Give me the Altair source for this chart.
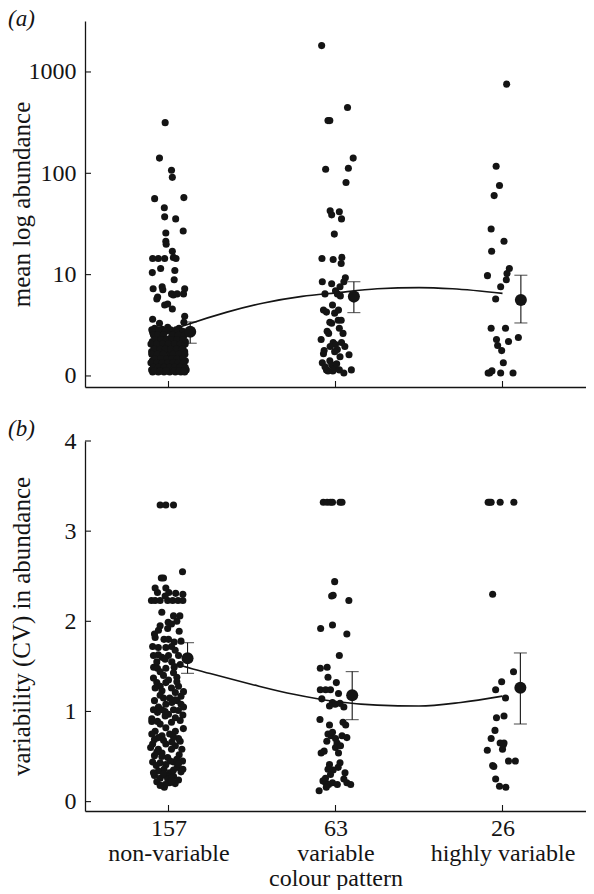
import altair as alt
import pandas as pd

FONT = "Liberation Serif"
INK = "#141414"

# ---------------- categories / tick labels ----------------
CATEGORIES = [1, 2, 3]
COUNT_LABELS = ["157", "63", "26"]
NAME_LABELS = [["non-variable"], ["variable", "colour pattern"], ["highly variable"]]

TOP_TICKS = [0, 1, 2, 3]
TOP_TICK_LABELS = ["0", "10", "100", "1000"]
BOT_TICKS = [0, 1, 2, 3, 4]
BOT_TICK_LABELS = ["0", "1", "2", "3", "4"]

# ---------------- panel (a): mean log abundance (log10 units) ----------------
# (jitter offset in category units, value)
TOP_NONVAR = [
    (-0.020, 2.50), (-0.054, 2.15), (0.018, 2.03), (0.023, 1.96), (-0.083, 1.75), (0.092, 1.76),
    (-0.025, 1.66), (-0.023, 1.57), (0.043, 1.55), (-0.016, 1.41), (0.088, 1.43), (-0.016, 1.33),
    (-0.014, 1.30), (0.023, 1.23), (0.029, 1.17), (-0.061, 1.16), (-0.095, 1.16), (-0.023, 1.16),
    (0.045, 1.16), (-0.047, 1.06), (0.038, 1.04), (-0.097, 1.02), (0.034, 0.95), (-0.092, 0.86),
    (-0.038, 0.88), (-0.034, 0.85), (0.097, 0.86), (0.090, 0.81), (0.018, 0.81), (0.029, 0.80),
    (0.052, 0.81), (-0.065, 0.78), (-0.070, 0.76), (-0.023, 0.70), (-0.005, 0.71), (0.023, 0.66),
    (0.097, 0.59), (-0.095, 0.56), (-0.054, 0.52), (0.092, 0.53),
    (-0.083, 0.47), (-0.038, 0.46), (-0.005, 0.48), (0.063, 0.47),
    (-0.095, 0.43), (-0.061, 0.42), (-0.016, 0.44), (0.018, 0.43), (0.052, 0.42), (0.086, 0.44),
    (-0.079, 0.38), (-0.050, 0.39), (0.007, 0.37), (0.041, 0.38), (0.074, 0.39),
    (-0.097, 0.34), (-0.065, 0.33), (-0.027, 0.35), (0.002, 0.33), (0.034, 0.34), (0.070, 0.32), (0.101, 0.34),
    (-0.088, 0.29), (-0.050, 0.30), (-0.016, 0.28), (0.018, 0.29), (0.052, 0.30), (0.086, 0.28),
    (-0.101, 0.24), (-0.072, 0.23), (-0.034, 0.25), (-0.002, 0.24), (0.029, 0.23), (0.065, 0.25), (0.097, 0.24),
    (-0.083, 0.19), (-0.050, 0.20), (-0.016, 0.18), (0.011, 0.19), (0.047, 0.20), (0.081, 0.18),
    (-0.097, 0.15), (-0.065, 0.14), (-0.029, 0.15), (0.002, 0.16), (0.034, 0.14), (0.070, 0.15), (0.101, 0.15),
    (-0.088, 0.11), (-0.056, 0.10), (-0.020, 0.11), (0.018, 0.10), (0.052, 0.11), (0.086, 0.10),
    (-0.101, 0.06), (-0.072, 0.06), (-0.043, 0.07), (-0.011, 0.06), (0.020, 0.06), (0.052, 0.07), (0.083, 0.06), (0.106, 0.06),
    (-0.095, 0.04), (-0.061, 0.04), (-0.027, 0.04), (0.007, 0.04), (0.041, 0.04), (0.074, 0.04), (0.097, 0.04),
    (-0.100, 0.455), (-0.060, 0.455), (0.012, 0.455), (0.045, 0.455),
    (-0.090, 0.405), (-0.065, 0.405), (-0.030, 0.405), (0.025, 0.405), (0.058, 0.405), (0.095, 0.405),
    (-0.080, 0.36), (-0.045, 0.36), (-0.012, 0.36), (0.018, 0.36), (0.052, 0.36), (0.088, 0.36),
    (-0.105, 0.315), (-0.070, 0.315), (-0.035, 0.315), (0.000, 0.315), (0.036, 0.315), (0.070, 0.315), (0.100, 0.315),
    (-0.085, 0.265), (-0.050, 0.265), (-0.018, 0.265), (0.014, 0.265), (0.048, 0.265), (0.082, 0.265),
    (-0.100, 0.215), (-0.066, 0.215), (-0.032, 0.215), (0.028, 0.215), (0.062, 0.215), (0.098, 0.215),
    (-0.082, 0.17), (-0.047, 0.17), (-0.012, 0.17), (0.019, 0.17), (0.052, 0.17), (0.086, 0.17),
    (-0.105, 0.13), (-0.070, 0.13), (-0.038, 0.13), (-0.005, 0.13), (0.027, 0.13), (0.058, 0.13), (0.090, 0.13),
    (-0.090, 0.085), (-0.060, 0.085), (-0.027, 0.085), (0.006, 0.085), (0.036, 0.085), (0.068, 0.085), (0.100, 0.085),
    (-0.085, 0.05), (-0.050, 0.05), (-0.015, 0.05), (0.035, 0.05), (0.065, 0.05), (0.090, 0.05),
]
TOP_VAR = [
    (-0.083, 3.26), (0.072, 2.65), (-0.045, 2.52), (-0.034, 2.52), (0.106, 2.15), (-0.059, 2.04),
    (0.077, 2.05), (0.063, 1.91), (-0.032, 1.63), (-0.023, 1.59), (0.023, 1.62), (0.036, 1.55),
    (-0.007, 1.40), (-0.081, 1.16), (-0.014, 1.15), (0.038, 1.17), (0.034, 1.11), (-0.079, 0.93),
    (-0.023, 0.91), (0.059, 0.97), (0.050, 0.93), (0.027, 0.88), (0.000, 0.84), (-0.063, 0.81),
    (0.011, 0.81), (0.029, 0.79), (-0.018, 0.70), (-0.072, 0.65), (-0.054, 0.63), (-0.005, 0.62),
    (0.016, 0.55), (-0.034, 0.53), (-0.023, 0.52), (-0.050, 0.44), (0.023, 0.47), (0.045, 0.42),
    (-0.086, 0.36), (-0.014, 0.33), (0.000, 0.31), (0.036, 0.33), (-0.068, 0.25), (0.011, 0.26),
    (-0.005, 0.24), (0.081, 0.21), (0.027, 0.19), (-0.079, 0.13), (-0.034, 0.15), (-0.023, 0.11),
    (-0.054, 0.06), (-0.045, 0.05), (-0.016, 0.05), (-0.007, 0.07), (0.023, 0.06), (0.050, 0.03),
    (0.095, 0.06), (-0.063, 0.09), (0.007, 0.12), (0.056, 0.29), (-0.041, 0.42), (0.034, 0.55),
    (-0.072, 0.22), (-0.032, 0.29), (0.018, 0.65),
]
TOP_HIGH = [
    (0.025, 2.88), (-0.038, 2.07), (-0.018, 1.88), (-0.050, 1.78), (-0.068, 1.45), (0.009, 1.33),
    (-0.065, 1.23), (0.041, 1.06), (0.027, 1.01), (-0.090, 0.99), (-0.011, 0.88), (0.023, 0.95),
    (-0.041, 0.76), (-0.068, 0.47), (0.018, 0.47), (-0.036, 0.36), (0.036, 0.34), (0.095, 0.38),
    (-0.029, 0.30), (-0.005, 0.25), (0.005, 0.13), (-0.086, 0.03), (-0.063, 0.05), (-0.011, 0.03),
    (0.063, 0.03), (-0.077, 0.03),
]
TOP_MEAN = [0.437, 0.783, 0.750]
TOP_LO = [0.323, 0.625, 0.523]
TOP_HI = [0.533, 0.930, 0.994]
TOP_MEAN_OFFSET = [0.13, 0.11, 0.11]
TOP_FIT_X = [1.0, 1.1, 1.35, 1.57, 1.8, 2.0, 2.25, 2.5, 2.7, 3.0]
TOP_FIT_Y = [0.44, 0.50, 0.63, 0.72, 0.785, 0.82, 0.86, 0.872, 0.86, 0.815]

# ---------------- panel (b): variability (CV) ----------------
BOT_NONVAR = [
    (-0.050, 3.29), (-0.016, 3.29), (0.030, 3.29), (0.084, 2.55), (-0.043, 2.48), (-0.030, 2.48),
    (-0.080, 2.37), (-0.016, 2.37), (-0.066, 2.32), (0.002, 2.32), (0.043, 2.31), (0.086, 2.30),
    (-0.102, 2.23), (-0.080, 2.23), (-0.050, 2.23), (-0.005, 2.23), (0.025, 2.23), (0.057, 2.23), (0.086, 2.23),
    (0.030, 2.06), (0.068, 2.06), (-0.002, 1.99), (0.018, 1.97), (-0.005, 1.92), (0.064, 1.89),
    (-0.084, 1.86), (-0.080, 1.82), (-0.027, 1.80), (0.034, 1.77), (0.075, 1.78), (-0.095, 1.72),
    (-0.061, 1.71), (-0.016, 1.71), (0.018, 1.72), (-0.061, 1.63), (-0.039, 1.60), (0.000, 1.62),
    (-0.089, 1.49), (-0.066, 1.48), (-0.016, 1.48), (0.034, 1.49), (0.030, 1.43), (-0.070, 1.32),
    (-0.050, 1.28), (-0.016, 1.32), (0.018, 1.26), (-0.039, 1.23), (0.041, 1.21), (0.075, 1.17),
    (0.007, 1.15), (0.052, 1.12), (-0.084, 1.12), (-0.016, 1.08), (0.075, 1.08), (-0.039, 1.02),
    (0.030, 1.02), (0.059, 1.01), (-0.066, 0.99), (0.000, 0.97), (0.086, 0.96), (0.041, 0.93),
    (-0.100, 0.89), (-0.066, 0.89), (0.018, 0.88), (0.089, 0.81), (-0.016, 0.82), (0.041, 0.78),
    (0.007, 0.75), (-0.039, 0.73), (-0.061, 0.71), (-0.084, 0.69), (0.070, 0.67), (-0.095, 0.64),
    (-0.016, 0.64), (0.041, 0.62), (-0.107, 0.60), (-0.061, 0.58), (0.018, 0.58), (-0.039, 0.54),
    (0.064, 0.52), (-0.084, 0.51), (-0.005, 0.49), (-0.095, 0.44), (0.030, 0.44), (0.084, 0.45),
    (-0.050, 0.43), (-0.016, 0.41), (-0.073, 0.40), (0.052, 0.38), (0.086, 0.36), (-0.027, 0.36),
    (0.007, 0.32), (0.075, 0.33), (-0.084, 0.29), (-0.016, 0.29), (0.030, 0.28), (-0.050, 0.26),
    (-0.005, 0.25), (0.018, 0.26), (-0.025, 0.16), (0.007, 0.21),
    (-0.070, 1.55), (0.020, 1.55), (-0.030, 1.40), (0.050, 1.38), (-0.090, 1.37), (0.000, 1.35),
    (-0.050, 1.18), (0.020, 1.10), (-0.060, 1.05), (0.060, 1.28), (-0.020, 0.95), (-0.080, 0.78),
    (0.060, 0.70), (-0.030, 0.68), (0.020, 0.66), (-0.070, 0.55), (0.050, 0.47), (-0.060, 0.34),
    (0.030, 0.35), (-0.030, 0.31), (0.060, 0.24), (-0.070, 0.22), (0.040, 0.20), (-0.020, 0.19),
    (0.010, 0.45), (-0.050, 1.95), (0.040, 1.68), (-0.100, 0.92), (0.090, 1.05), (-0.040, 2.10),
    (-0.090, 0.32), (0.060, 0.42), (-0.040, 0.50), (0.080, 0.58), (-0.100, 0.75), (0.030, 0.72),
    (-0.050, 0.86), (0.070, 0.90), (-0.020, 1.00), (-0.090, 1.02), (0.040, 1.13), (-0.030, 1.15),
    (0.090, 1.22), (-0.080, 1.26), (0.050, 1.33), (-0.050, 1.44), (0.070, 1.52), (-0.020, 1.58),
    (-0.090, 1.62), (0.060, 1.62), (0.000, 1.80), (-0.060, 1.90), (0.050, 2.00), (-0.020, 2.28),
    (0.020, 0.23), (-0.050, 0.18),
]
BOT_VAR = [
    (-0.073, 3.32), (-0.050, 3.32), (-0.030, 3.32), (-0.018, 3.32), (0.027, 3.32), (0.039, 3.32),
    (-0.005, 2.44), (-0.023, 2.28), (-0.014, 2.29), (0.080, 2.23), (-0.089, 1.92), (-0.018, 1.96),
    (0.068, 1.86), (0.023, 1.62), (-0.091, 1.48), (-0.050, 1.49), (-0.045, 1.38), (0.005, 1.32),
    (-0.091, 1.24), (-0.059, 1.24), (-0.030, 1.24), (-0.082, 1.14), (0.018, 1.20), (-0.018, 1.10),
    (-0.002, 1.08), (0.027, 1.09), (-0.036, 1.06), (-0.093, 0.91), (0.045, 0.88), (0.061, 0.85),
    (-0.036, 0.85), (-0.045, 0.75), (-0.027, 0.73), (-0.018, 0.77), (0.039, 0.73), (0.000, 0.70),
    (0.068, 0.71), (-0.052, 0.67), (0.009, 0.65), (0.000, 0.60), (-0.086, 0.54), (-0.068, 0.56),
    (0.018, 0.54), (-0.036, 0.41), (0.027, 0.43), (0.016, 0.38), (-0.045, 0.36), (-0.014, 0.35),
    (-0.030, 0.30), (0.057, 0.32), (-0.075, 0.23), (-0.059, 0.21), (-0.041, 0.19), (-0.018, 0.21),
    (0.050, 0.25), (0.068, 0.21), (-0.098, 0.12), (-0.055, 0.16), (0.011, 0.19), (0.091, 0.19),
    (0.030, 0.62), (-0.060, 0.26), (0.050, 1.05),
]
BOT_HIGH = [
    (-0.086, 3.32), (-0.068, 3.32), (-0.014, 3.32), (0.068, 3.32), (-0.077, 3.32), (-0.059, 2.30),
    (0.066, 1.44), (-0.005, 1.33), (-0.041, 1.24), (0.018, 1.15), (0.009, 0.95), (-0.036, 0.93),
    (-0.045, 0.79), (-0.068, 0.70), (-0.014, 0.65), (0.009, 0.65), (0.000, 0.58), (-0.091, 0.57),
    (-0.059, 0.40), (-0.052, 0.39), (0.036, 0.45), (0.077, 0.45), (-0.041, 0.25), (-0.018, 0.17),
    (0.020, 0.16), (0.005, 0.63),
]
BOT_MEAN = [1.590, 1.180, 1.264]
BOT_LO = [1.423, 0.909, 0.861]
BOT_HI = [1.763, 1.442, 1.649]
BOT_MEAN_OFFSET = [0.114, 0.10, 0.107]
BOT_FIT_X = [1.0, 1.25, 1.5, 1.75, 2.0, 2.25, 2.5, 2.75, 3.0]
BOT_FIT_Y = [1.55, 1.42, 1.30, 1.19, 1.11, 1.07, 1.06, 1.10, 1.17]

W = 501
H_TOP = 366
H_BOT = 370


def points_frame(groups):
    rows = []
    for cat, pts in zip(CATEGORIES, groups):
        for off, val in pts:
            rows.append({"x": cat + off, "y": val})
    return pd.DataFrame(rows)


def means_frame(mean, lo, hi, offs):
    return pd.DataFrame({
        "x": [c + o for c, o in zip(CATEGORIES, offs)],
        "y": mean, "lo": lo, "hi": hi,
    })


def ternary(values, labels):
    expr = "''"
    for v, lab in reversed(list(zip(values, labels))):
        expr = f"datum.value == {v} ? {lab} : ({expr})"
    return expr


y_top_expr = ternary(TOP_TICKS, [f"'{t}'" for t in TOP_TICK_LABELS])
y_bot_expr = ternary(BOT_TICKS, [f"'{t}'" for t in BOT_TICK_LABELS])
x_lab = []
for cnt, names in zip(COUNT_LABELS, NAME_LABELS):
    x_lab.append("[" + ",".join(f"'{s}'" for s in [cnt] + names) + "]")
x_expr = ternary(CATEGORIES, x_lab)


def panel(groups, mean, lo, hi, offs, fit_x, fit_y, ydomain, yticks, yexpr, ytitle,
          height, show_xlabels, tag, tag_offset):
    xscale = alt.Scale(domain=[0.5, 3.5], nice=False, zero=False)
    yscale = alt.Scale(domain=ydomain, nice=False, zero=False)
    if show_xlabels:
        xaxis = alt.Axis(values=CATEGORIES, labelExpr=x_expr, title=None, ticks=False,
                         labelPadding=5, labelLineHeight=25, labelBaseline="top", grid=False)
    else:
        xaxis = alt.Axis(values=CATEGORIES, labels=False, title=None, ticks=False, grid=False)
    yaxis = alt.Axis(values=yticks, labelExpr=yexpr, title=ytitle, ticks=False, grid=False,
                     labelPadding=9, titleX=-56, titleY=height / 2, titleAngle=270,
                     titleBaseline="alphabetic", titleAlign="center")

    def X(f):
        return alt.X(f, type="quantitative", scale=xscale, axis=xaxis)

    def Y(f):
        return alt.Y(f, type="quantitative", scale=yscale, axis=yaxis)

    pts = points_frame(groups)
    mdf = means_frame(mean, lo, hi, offs)
    fit = pd.DataFrame({"x": fit_x, "y": fit_y})
    ytk = pd.DataFrame({"y": yticks})
    xtk = pd.DataFrame({"x": CATEGORIES})

    dots = alt.Chart(pts).mark_circle(size=50, color=INK, opacity=1).encode(x=X("x"), y=Y("y"))
    line = alt.Chart(fit).mark_line(color=INK, strokeWidth=1.6, interpolate="monotone").encode(
        x=X("x"), y=Y("y"))
    err = alt.Chart(mdf).mark_rule(color=INK, strokeWidth=1.1).encode(x=X("x"), y=Y("lo"), y2="hi")
    cap_lo = alt.Chart(mdf).mark_tick(color=INK, orient="horizontal", size=13, thickness=1.1).encode(
        x=X("x"), y=Y("lo"))
    cap_hi = alt.Chart(mdf).mark_tick(color=INK, orient="horizontal", size=13, thickness=1.1).encode(
        x=X("x"), y=Y("hi"))
    big = alt.Chart(mdf).mark_circle(size=145, color=INK, opacity=1).encode(x=X("x"), y=Y("y"))
    ytick = alt.Chart(ytk).mark_rule(color=INK, strokeWidth=1.1).encode(
        y=Y("y"), x=alt.value(0), x2=alt.value(6))
    xtick = alt.Chart(xtk).mark_rule(color=INK, strokeWidth=1.1).encode(
        x=X("x"), y=alt.value(height), y2=alt.value(height - 6))

    return alt.layer(dots, line, err, cap_lo, cap_hi, big, ytick, xtick).properties(
        width=W, height=height,
        title=alt.TitleParams(text=tag, anchor="start", frame="group", dx=-77,
                              offset=tag_offset, baseline="top", orient="top"),
    )


top = panel([TOP_NONVAR, TOP_VAR, TOP_HIGH], TOP_MEAN, TOP_LO, TOP_HI, TOP_MEAN_OFFSET,
            TOP_FIT_X, TOP_FIT_Y, [-0.109, 3.503], TOP_TICKS, y_top_expr,
            "mean log abundance", H_TOP, False, "(a)", -10)
bot = panel([BOT_NONVAR, BOT_VAR, BOT_HIGH], BOT_MEAN, BOT_LO, BOT_HI, BOT_MEAN_OFFSET,
            BOT_FIT_X, BOT_FIT_Y, [-0.104, 4.0], BOT_TICKS, y_bot_expr,
            "variability (CV) in abundance", H_BOT, True, "(b)", -12)

chart = alt.vconcat(top, bot, spacing=30, padding=0).configure_view(stroke=None).configure_axis(
    domainColor=INK, domainWidth=1.3, labelColor=INK, labelFont=FONT, labelFontSize=24,
    titleFont=FONT, titleFontSize=25, titleFontWeight="normal", titleColor=INK,
).configure_title(
    font=FONT, fontSize=23, fontStyle="italic", fontWeight="normal", color=INK,
)

chart.save("out.html", embed_options={"renderer": "svg", "actions": False})
